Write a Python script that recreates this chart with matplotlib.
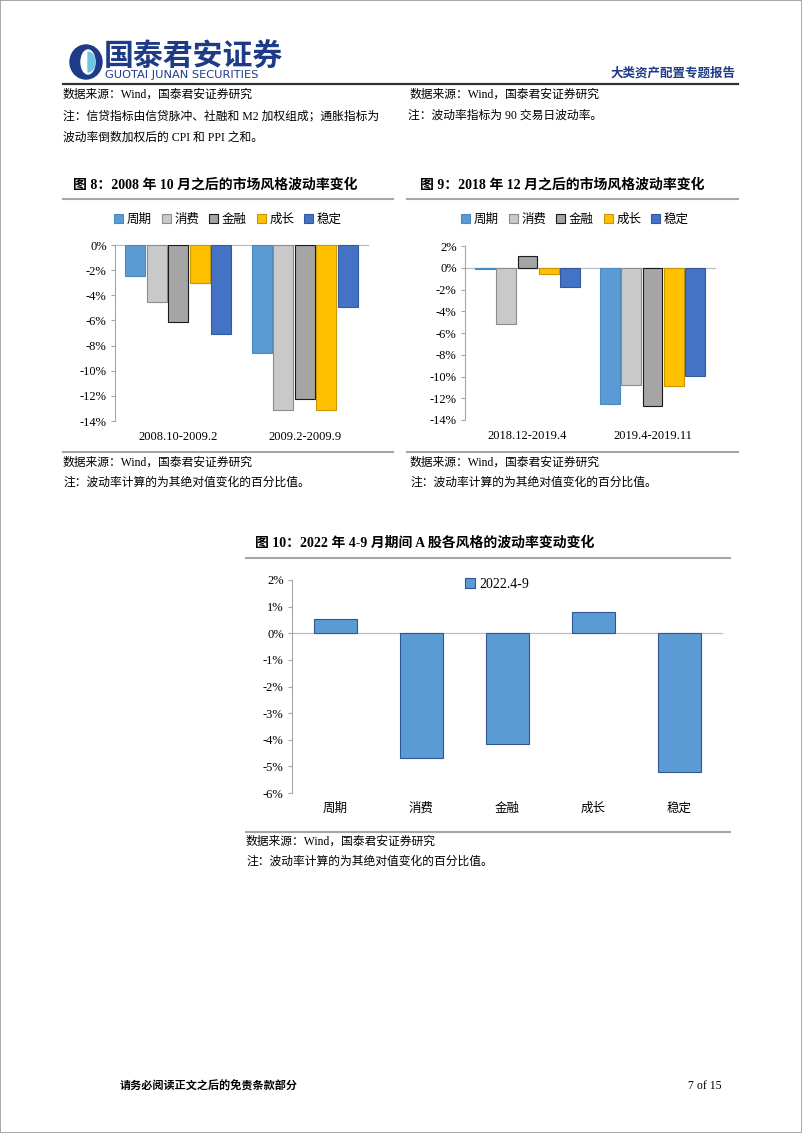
import matplotlib
matplotlib.use('Agg')
import numpy as np
import matplotlib.pyplot as plt
from matplotlib.patches import Ellipse, Rectangle, Wedge
from matplotlib.lines import Line2D
from matplotlib.ticker import FuncFormatter

W, H = 802, 1133
plt.rcParams['font.family'] = ['Liberation Serif', 'Noto Sans CJK SC']

# 风格 / 颜色
styles = ['周期', '消费', '金融', '成长', '稳定']
colors = ['#5B9BD5', '#C9C9C9', '#A5A5A5', '#FFC000', '#4472C4']
edges = ['#4A89C2', '#8C8C8C', '#1A1A1A', '#C89600', '#35599E']

# 图 8
periods8 = ['2008.10-2009.2', '2009.2-2009.9']
cyc8 = [-2.5, -8.6]
con8 = [-4.5, -13.1]
fin8 = [-6.1, -12.25]
gro8 = [-3.05, -13.1]
sta8 = [-7.05, -4.95]

# 图 9
periods9 = ['2018.12-2019.4', '2019.4-2019.11']
cyc9 = [-0.1, -12.5]
con9 = [-5.2, -10.8]
fin9 = [1.05, -12.7]
gro9 = [-0.6, -10.9]
sta9 = [-1.8, -9.95]

# 图 10
label10 = '2022.4-9'
vol10 = [0.53, -4.69, -4.15, 0.8, -5.21]

fig = plt.figure(figsize=(W / 100, H / 100), dpi=100)


def px_axes(l, t, r, b):
    return fig.add_axes([l / W, 1 - b / H, (r - l) / W, (b - t) / H])


def txt(x, y, s, **kw):
    kw.setdefault('va', 'center')
    kw.setdefault('fontsize', 8.5)
    fig.text(x / W, 1 - y / H, s, **kw)


def hline(x0, x1, y, color='#A6A6A6', lw=1.5):
    fig.add_artist(Line2D([x0 / W, x1 / W], [1 - y / H] * 2,
                          transform=fig.transFigure, color=color, lw=lw))


pct = FuncFormatter(lambda v, p: '%d%%' % round(v))


def style_axes(ax, cats, ylim, step):
    ax.set_xticks(np.arange(len(cats)))
    ax.set_xticklabels(cats, fontsize=9)
    ax.set_xlim(-0.5, len(cats) - 0.5)
    ax.set_ylim(*ylim)
    ax.set_yticks(np.arange(ylim[0], ylim[1] + step / 2, step))
    ax.yaxis.set_major_formatter(pct)
    for s in ['top', 'right', 'bottom']:
        ax.spines[s].set_visible(False)
    ax.spines['left'].set_color('#A6A6A6')
    ax.axhline(0, color='#BFBFBF', lw=0.9, clip_on=False, zorder=1)
    ax.tick_params(axis='x', length=0, pad=7)
    ax.tick_params(axis='y', length=3, color='#A6A6A6', labelsize=9, pad=3)
    ax.patch.set_alpha(0)


def grouped(ax, periods, series, ylim, legend_xy):
    x = np.arange(len(periods))
    slot = 0.17
    for i, vals in enumerate(series):
        ax.bar(x + (i - 2) * slot, vals, width=0.158, color=colors[i],
               edgecolor=edges[i], linewidth=0.8, label=styles[i], zorder=2)
    style_axes(ax, periods, ylim, 2)
    ax.legend(loc='center', bbox_to_anchor=(legend_xy[0] / W, 1 - legend_xy[1] / H),
              bbox_transform=fig.transFigure, ncol=5, frameon=False, fontsize=9,
              handlelength=0.7, handleheight=0.7, handletextpad=0.3, columnspacing=0.8)


# 页眉
fig.patches.append(Rectangle((0, 0), 1, 1, transform=fig.transFigure, fill=False,
                             edgecolor='#9A9A9A', lw=1.2))
fig.patches.append(Ellipse((86 / W, 1 - 62 / H), 32 / W, 34 / H, transform=fig.transFigure,
                           color='#1D3B87'))
fig.patches.append(Ellipse((88 / W, 1 - 62 / H), 14 / W, 24 / H, transform=fig.transFigure,
                           color='white'))
fig.patches.append(Wedge((88 / W, 1 - 62 / H), 7 / W, -90, 90, transform=fig.transFigure,
                         color='#6EC6E6'))
txt(104, 57, '国泰君安证券', fontsize=21.5, fontweight='bold', color='#1D3B87',
    family='Noto Sans CJK SC')
txt(105, 75, 'GUOTAI JUNAN SECURITIES', fontsize=8.2, color='#1D3B87',
    family='DejaVu Sans')
txt(735, 73, '大类资产配置专题报告', fontsize=9, fontweight='bold', color='#1D3B87', ha='right')
hline(63, 738, 84, color='#333333', lw=1.6)

txt(63, 95, '数据来源：Wind，国泰君安证券研究')
txt(410, 95, '数据来源：Wind，国泰君安证券研究')
txt(63, 116, '注：信贷指标由信贷脉冲、社融和 M2 加权组成；通胀指标为')
txt(408, 116, '注：波动率指标为 90 交易日波动率。')
txt(63, 138, '波动率倒数加权后的 CPI 和 PPI 之和。')

# 图 8
txt(73, 185, '图 8：2008 年 10 月之后的市场风格波动率变化', fontsize=10, fontweight='bold')
hline(63, 393, 199)
ax8 = px_axes(115, 245, 368, 421)
grouped(ax8, periods8, [cyc8, con8, fin8, gro8, sta8], (-14, 0), (228, 220))
hline(63, 393, 452)
txt(63, 463, '数据来源：Wind，国泰君安证券研究')
txt(63, 483, '注：波动率计算的为其绝对值变化的百分比值。')

# 图 9
txt(420, 185, '图 9：2018 年 12 月之后的市场风格波动率变化', fontsize=10, fontweight='bold')
hline(407, 738, 199)
ax9 = px_axes(465, 246, 715, 420)
grouped(ax9, periods9, [cyc9, con9, fin9, gro9, sta9], (-14, 2), (575, 220))
hline(407, 738, 452)
txt(410, 463, '数据来源：Wind，国泰君安证券研究')
txt(410, 483, '注：波动率计算的为其绝对值变化的百分比值。')

# 图 10
txt(255, 543, '图 10：2022 年 4-9 月期间 A 股各风格的波动率变动变化', fontsize=10, fontweight='bold')
hline(246, 730, 558)
ax10 = px_axes(292, 580, 722, 793)
ax10.bar(np.arange(len(styles)), vol10, width=0.5, color='#5B9BD5', edgecolor='#2F5597',
         linewidth=0.8, label=label10, zorder=2)
style_axes(ax10, styles, (-6, 2), 1)
ax10.legend(loc='center', bbox_to_anchor=(497 / W, 1 - 584 / H), bbox_transform=fig.transFigure,
            frameon=False, fontsize=10, handlelength=0.7, handleheight=0.7, handletextpad=0.3)
hline(246, 730, 832)
txt(246, 842, '数据来源：Wind，国泰君安证券研究')
txt(246, 862, '注：波动率计算的为其绝对值变化的百分比值。')

# 页脚
txt(120, 1086, '请务必阅读正文之后的免责条款部分', fontsize=8, fontweight='bold')
txt(722, 1086, '7 of 15', fontsize=8.5, ha='right')

fig.savefig('out.png', dpi=100)
